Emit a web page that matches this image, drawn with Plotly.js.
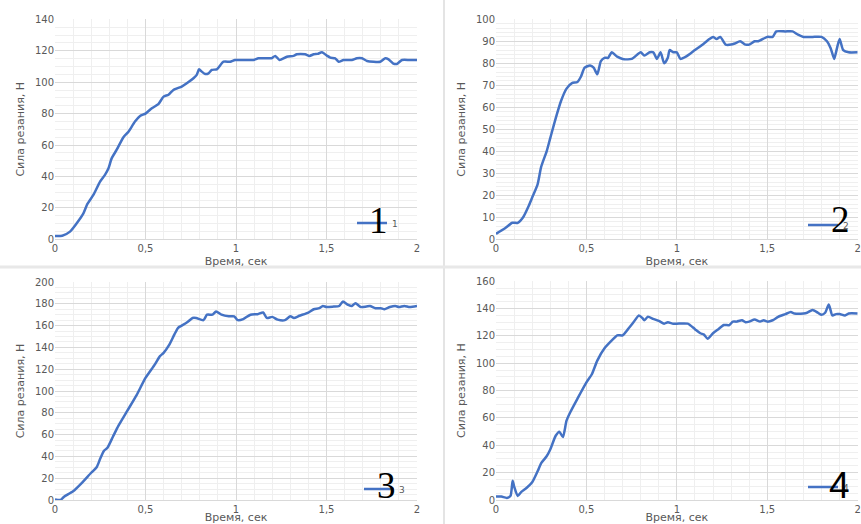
<!DOCTYPE html>
<html>
<head>
<meta charset="utf-8">
<script src="https://cdn.plot.ly/plotly-3.0.1.min.js"></script>
<style>html,body{margin:0;padding:0;background:#fff;}#chart{width:861px;height:524px;}</style>
</head>
<body>
<div id="chart"></div>
<script>
// ---- Data ----
const xTitle = "Время, сек";
const yTitle = "Сила резания, Н";
const seriesNames = ["1", "2", "3", "4"];
const bigLabels = ["1", "2", "3", "4"];

const t1 = [0, 0.04, 0.083, 0.12, 0.157, 0.179, 0.212, 0.249, 0.276, 0.295, 0.313, 0.341, 0.378, 0.406, 0.442, 0.47, 0.5, 0.535, 0.571, 0.6, 0.627, 0.654, 0.7, 0.728, 0.765, 0.783, 0.796, 0.811, 0.83, 0.848, 0.866, 0.894, 0.931, 0.968, 0.995, 1.05, 1.097, 1.124, 1.17, 1.195, 1.217, 1.24, 1.281, 1.318, 1.336, 1.382, 1.406, 1.429, 1.451, 1.475, 1.502, 1.521, 1.548, 1.567, 1.594, 1.64, 1.668, 1.696, 1.724, 1.797, 1.825, 1.843, 1.867, 1.889, 1.917, 1.96, 2.0];
const f1 = [2.1, 2.3, 4.9, 10.2, 16.5, 22.5, 28.2, 36.7, 41, 45, 51.5, 57, 65, 68.5, 75, 78.5, 80, 83.4, 86, 90.8, 92, 95, 97.2, 99.3, 102.5, 104.6, 108.2, 106.7, 105.2, 105.6, 107.8, 108.2, 113, 113, 114.1, 114.1, 114.1, 115.2, 115.2, 115.2, 116.7, 114.1, 116.2, 116.7, 117.7, 117.7, 116.7, 117.7, 118, 119, 116.9, 115.6, 115.2, 113, 114.1, 114.1, 115.2, 115.2, 113.5, 113, 115.2, 114.5, 112, 111.6, 114.1, 114.1, 114.1];

const t2 = [0, 0.05, 0.09, 0.12, 0.15, 0.18, 0.2, 0.23, 0.25, 0.28, 0.3, 0.33, 0.36, 0.39, 0.42, 0.45, 0.47, 0.49, 0.52, 0.54, 0.56, 0.58, 0.6, 0.62, 0.64, 0.67, 0.7, 0.75, 0.8, 0.82, 0.85, 0.87, 0.89, 0.91, 0.93, 0.95, 0.96, 0.98, 1.0, 1.02, 1.05, 1.1, 1.15, 1.18, 1.2, 1.22, 1.24, 1.27, 1.3, 1.32, 1.35, 1.38, 1.4, 1.43, 1.45, 1.5, 1.53, 1.55, 1.6, 1.64, 1.67, 1.7, 1.75, 1.8, 1.83, 1.85, 1.87, 1.88, 1.9, 1.92, 1.95, 2.0];
const f2 = [2.5, 5, 7.5, 7.5, 10, 15, 19, 25, 33, 40, 46, 55, 63, 68.5, 71, 71.5, 74, 78, 79, 78, 75, 81, 82.5, 82.5, 85, 83, 82, 82, 85, 83.5, 85, 85, 82, 85, 80, 82.5, 86, 85, 85, 82, 83, 86, 89, 91, 92, 91, 92, 88.5, 88.5, 89, 90, 88.5, 88.5, 90, 90, 92, 92, 94.5, 94.5, 94.5, 93, 92, 92, 92, 90, 87, 82, 85, 91, 86, 85, 85];

const t3 = [0, 0.03, 0.05, 0.1, 0.15, 0.2, 0.23, 0.25, 0.27, 0.29, 0.32, 0.35, 0.4, 0.45, 0.5, 0.55, 0.58, 0.6, 0.63, 0.66, 0.68, 0.7, 0.73, 0.76, 0.78, 0.82, 0.84, 0.87, 0.89, 0.92, 0.96, 0.99, 1.01, 1.04, 1.08, 1.12, 1.15, 1.17, 1.2, 1.23, 1.27, 1.3, 1.32, 1.35, 1.4, 1.43, 1.46, 1.48, 1.5, 1.54, 1.57, 1.59, 1.62, 1.64, 1.66, 1.69, 1.72, 1.74, 1.77, 1.8, 1.82, 1.85, 1.88, 1.9, 1.93, 1.96, 2.0];
const f3 = [0.5, 0, 3, 8, 16, 25, 30, 38, 45, 48, 58, 68, 82, 96, 112, 124, 132, 135, 142, 152, 158, 160, 163, 167, 167, 165, 170, 170, 173, 170, 168.5, 168.5, 165, 166, 170, 170.5, 172, 167, 168, 165.5, 165, 168.5, 167, 169, 172, 175, 176, 178, 177, 177.5, 178, 182, 179, 178, 180.5, 177, 177.5, 178, 176, 176, 175, 177, 178, 177, 178, 177, 178];

const t4 = [0, 0.03, 0.06, 0.08, 0.092, 0.1, 0.12, 0.14, 0.17, 0.2, 0.23, 0.25, 0.28, 0.3, 0.33, 0.35, 0.37, 0.39, 0.41, 0.45, 0.5, 0.53, 0.56, 0.6, 0.65, 0.67, 0.7, 0.73, 0.76, 0.79, 0.81, 0.82, 0.84, 0.87, 0.9, 0.93, 0.95, 0.98, 1.0, 1.06, 1.1, 1.13, 1.15, 1.17, 1.2, 1.23, 1.26, 1.29, 1.31, 1.33, 1.36, 1.38, 1.4, 1.43, 1.46, 1.48, 1.5, 1.53, 1.56, 1.6, 1.63, 1.65, 1.7, 1.72, 1.75, 1.78, 1.8, 1.82, 1.84, 1.86, 1.88, 1.9, 1.93, 1.95, 2.0];
const f4 = [2.5, 2.5, 1.5, 3, 14, 10, 3, 6, 9, 13, 21, 27, 32, 37, 47, 50, 46, 58, 64, 74, 86, 92, 102, 111, 118, 120.5, 120.5, 125, 130, 135, 133, 131.5, 134, 132.5, 131, 129, 130, 129, 129, 129, 125, 122, 121, 118, 122, 125, 128, 128, 130.5, 130.5, 131.5, 130, 130.5, 132, 130.5, 131.5, 130.5, 131.5, 134, 136, 137.5, 136.5, 136.5, 137, 139, 137, 135.5, 137, 143, 135, 136, 136, 135, 136.5, 136.5];

const yRanges = [[0, 140], [0, 100], [0, 200], [0, 160]];
const yDticks = [20, 10, 20, 20];
const yMinor = [5, 2, 5, 5];

// ---- Layout geometry (pixels) ----
const W = 861, H = 524, MB = 24;
const PH = H - MB;
const px = v => v / W;
const py = v => (PH - v) / PH;

const panels = [
  {x0: 55, x1: 417, yTop: 19.3, yBot: 239.3, leg: [352, 223], big: [378, 221], bigFont: "Liberation Serif", xStand: 4},
  {x0: 496, x1: 857.7, yTop: 19.3, yBot: 239.3, leg: [803, 225], big: [840, 220], bigFont: "Liberation Serif", xStand: 4},
  {x0: 55, x1: 417, yTop: 282, yBot: 502, leg: [359, 489], big: [386, 485], bigFont: "Liberation Serif", xStand: 8},
  {x0: 496, x1: 857.7, yTop: 281.3, yBot: 502, leg: [803, 487], big: [839, 485], bigFont: "Liberation Sans", xStand: 8}
];

const ts = [t1, t2, t3, t4];
const fs = [f1, f2, f3, f4];
const lineColor = "#4472C4";
const textColor = "#595959";
const fontFam = "DejaVu Sans, sans-serif";

const data = [];
const layout = {
  width: W, height: H,
  margin: {l: 0, r: 0, t: 0, b: MB},
  paper_bgcolor: "#ffffff",
  plot_bgcolor: "#ffffff",
  separators: ", ",
  showlegend: true,
  annotations: [],
  shapes: [
    {type: "line", xref: "paper", yref: "paper", x0: px(444), x1: px(444), y0: py(H), y1: py(0), line: {color: "#e4e4e4", width: 2}, layer: "below"},
    {type: "line", xref: "paper", yref: "paper", x0: 0, x1: 1, y0: py(267), y1: py(267), line: {color: "#e8e8e8", width: 3}, layer: "below"}
  ]
};

panels.forEach((p, i) => {
  const n = i + 1;
  const xa = n === 1 ? "xaxis" : "xaxis" + n;
  const ya = n === 1 ? "yaxis" : "yaxis" + n;
  const xr = n === 1 ? "x" : "x" + n;
  const yr = n === 1 ? "y" : "y" + n;
  const lg = n === 1 ? "legend" : "legend" + n;

  data.push({
    type: "scatter", mode: "lines",
    x: ts[i], y: fs[i],
    xaxis: xr, yaxis: yr,
    name: seriesNames[i],
    legend: lg,
    line: {color: lineColor, width: 2.5, shape: "spline", smoothing: 0.6},
    hoverinfo: "x+y"
  });

  layout[xa] = {
    domain: [px(p.x0), px(p.x1)],
    anchor: yr,
    range: [0, 2],
    dtick: 0.5, tick0: 0,
    showgrid: true, gridcolor: "#d9d9d9", gridwidth: 1,
    minor: {dtick: 0.1, showgrid: true, gridcolor: "#efefef", gridwidth: 1},
    zeroline: false,
    showline: true, linecolor: "#d9d9d9", linewidth: 1,
    ticks: "",
    tickfont: {family: fontFam, size: 10, color: textColor},
    title: {text: xTitle, font: {family: fontFam, size: 11, color: textColor}, standoff: p.xStand},
    fixedrange: true
  };
  layout[ya] = {
    domain: [py(p.yBot), py(p.yTop)],
    anchor: xr,
    range: yRanges[i],
    dtick: yDticks[i], tick0: 0,
    showgrid: true, gridcolor: "#d9d9d9", gridwidth: 1,
    minor: {dtick: yMinor[i], showgrid: true, gridcolor: "#efefef", gridwidth: 1},
    zeroline: false,
    showline: false,
    ticks: "",
    tickfont: {family: fontFam, size: 10, color: textColor},
    title: {text: yTitle, font: {family: fontFam, size: 11, color: textColor}, standoff: 8},
    fixedrange: true
  };
  layout[lg] = {
    x: px(p.leg[0]), y: py(p.leg[1]),
    xanchor: "left", yanchor: "middle",
    bgcolor: "rgba(0,0,0,0)", borderwidth: 0,
    font: {family: fontFam, size: 9, color: textColor}
  };
  layout.annotations.push({
    xref: "paper", yref: "paper",
    x: px(p.big[0]), y: py(p.big[1]),
    xanchor: "center", yanchor: "middle",
    text: bigLabels[i], showarrow: false,
    font: {family: p.bigFont, size: 37, color: "#000000"}
  });
});

Plotly.newPlot("chart", data, layout, {displayModeBar: false, staticPlot: true});
</script>
</body>
</html>
